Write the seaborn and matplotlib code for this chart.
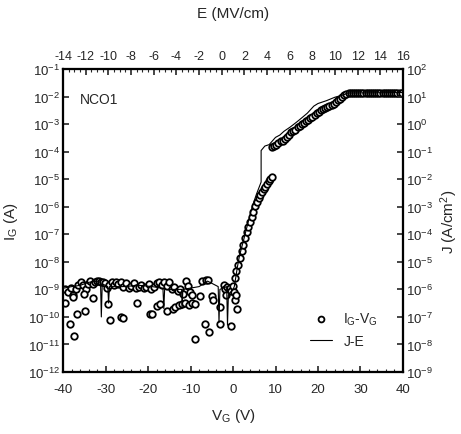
import matplotlib
matplotlib.use("Agg")
import matplotlib.pyplot as plt
import matplotlib.ticker as mticker
import seaborn as sns
import numpy as np
import pandas as pd

# ---------------- data ----------------
# I_G - V_G scatter: leakage/noise region
noise_v = [-39.5, -38.8, -38.2, -37.6, -37.0, -36.4, -35.8, -35.3, -34.7, -34.2, -33.6, -33.0,
           -32.5, -32.0, -31.6, -31.2, -30.7, -30.2, -29.7, -29.2, -28.6, -28.1, -27.5, -27.0,
           -26.4, -25.8, -25.2, -24.6, -24.0, -23.4, -22.8, -22.2, -21.6, -21.0, -20.4, -19.8,
           -19.2, -18.6, -18.0, -17.4, -16.8, -16.2, -15.6, -15.0, -14.4, -13.8, -13.0, -12.4,
           -11.8, -11.0, -10.6, -10.2, -9.6, -7.4, -6.4, -5.8, -2.2, -1.8, -1.4, -0.8, -0.4,
           0.0, 0.3,
           -39.6, -38.4, -37.4, -36.7, -34.8, -37.8, -35.2, -33.0, -29.4, -28.9, -26.3, -25.9,
           -22.6, -19.5, -19.0, -17.9, -17.2, -15.5, -14.2, -13.6, -12.8, -12.0, -11.2, -10.4,
           -9.7, -9.0, -7.8, -5.0, -4.8, -3.1, -8.9, -6.6, -5.6, -3.1, -0.5, 0.5, 0.9, 0.6, -1.6]
noise_i = [1.0e-9, 8e-10, 1.1e-9, 6.5e-10, 1.0e-9, 1.4e-9, 1.8e-9, 1.5e-9, 1.0e-9, 1.6e-9, 2.0e-9, 1.6e-9,
           1.9e-9, 2.1e-9, 2.0e-9, 1.8e-9, 1.9e-9, 1.7e-9, 1.1e-9, 1.4e-9, 1.8e-9, 1.5e-9, 1.9e-9, 1.6e-9,
           1.8e-9, 1.2e-9, 1.7e-9, 1.1e-9, 1.3e-9, 1.7e-9, 1.1e-9, 1.2e-9, 1.5e-9, 1.1e-9, 1.2e-9, 1.6e-9,
           1.0e-9, 1.2e-9, 1.7e-9, 1.8e-9, 1.4e-9, 1.9e-9, 1.3e-9, 1.8e-9, 1.0e-9, 1.2e-9, 9e-10, 1.0e-9,
           7e-10, 2.0e-9, 1.3e-9, 8e-10, 6e-10, 2.1e-9, 2.2e-9, 2.2e-9, 1.4e-9, 1.0e-9, 1.2e-9, 1.1e-9, 9e-10,
           1.3e-9, 8e-10,
           3.2e-10, 5.4e-11, 2.1e-11, 1.3e-10, 1.6e-10, 5.5e-10, 7e-10, 5e-10, 3.0e-10, 8e-11, 1.0e-10, 9e-11,
           3.2e-10, 1.3e-10, 1.3e-10, 2.5e-10, 3.0e-10, 1.6e-10, 2.0e-10, 2.2e-10, 2.6e-10, 3.0e-10, 3.2e-10, 2.8e-10,
           3.2e-10, 3.0e-10, 5.6e-10, 5.6e-10, 4e-10, 2.2e-10, 1.6e-11, 5.4e-11, 2.8e-11, 5.4e-11, 4.5e-11, 4e-10, 2.0e-10, 6e-10, 6e-10]

# I_G - V_G scatter: rising (Fowler-Nordheim) region
rise_v = [0.4, 0.8, 1.2, 1.6, 2.0, 2.4, 2.8, 3.2, 3.6, 4.0, 4.4, 4.8, 5.2, 5.6, 6.0, 6.4, 6.8,
          7.2, 7.6, 8.0, 8.4, 8.8, 9.2]
rise_i = [2.5e-9, 4.5e-9, 7.9e-9, 1.4e-8, 2.5e-8, 4.2e-8, 7.1e-8, 1.2e-7, 1.9e-7, 2.8e-7, 4.2e-7,
          6.6e-7, 1.05e-6, 1.5e-6, 2.0e-6, 2.7e-6, 3.4e-6, 4.3e-6, 5.4e-6, 6.8e-6, 8.3e-6, 1.0e-5, 1.2e-5]

# I_G - V_G scatter: post-breakdown region
high_v = [9.2, 9.7, 10.2, 10.7, 11.2, 11.7, 12.2, 12.7, 13.2, 13.7, 14.2, 14.7, 15.2, 15.7, 16.2,
          16.7, 17.2, 17.7, 18.2, 18.7, 19.2, 19.7, 20.2, 20.7, 21.2, 21.7, 22.2, 22.7, 23.2, 23.7,
          24.2, 24.7, 25.2, 25.7, 26.2, 26.7, 27.2, 27.7, 28.2, 28.7, 29.2, 29.7, 30.2, 30.7, 31.2,
          31.7, 32.2, 32.7, 33.2, 33.7, 34.2, 34.7, 35.2, 35.7, 36.2, 36.7, 37.2, 37.7, 38.2, 38.7,
          39.2, 39.7]
high_i = [1.45e-4, 1.6e-4, 1.8e-4, 2.1e-4, 2.4e-4, 2.5e-4, 3.0e-4, 3.4e-4, 4.0e-4, 5.0e-4, 5.6e-4,
          6.3e-4, 7.6e-4, 8.5e-4, 1.0e-3, 1.1e-3, 1.26e-3, 1.4e-3, 1.6e-3, 1.8e-3, 2.1e-3, 2.5e-3,
          2.8e-3, 3.2e-3, 3.5e-3, 3.8e-3, 4.2e-3, 4.7e-3, 5.1e-3, 5.6e-3, 6.3e-3, 7.4e-3, 8.1e-3,
          9.5e-3, 1.12e-2, 1.26e-2, 1.35e-2, 1.35e-2, 1.3e-2, 1.35e-2, 1.35e-2, 1.3e-2, 1.35e-2,
          1.35e-2, 1.3e-2, 1.35e-2, 1.35e-2, 1.3e-2, 1.35e-2, 1.35e-2, 1.3e-2, 1.35e-2, 1.35e-2,
          1.3e-2, 1.35e-2, 1.35e-2, 1.3e-2, 1.35e-2, 1.35e-2, 1.3e-2, 1.35e-2, 1.35e-2]

# J - E curve (top / right axes)
je_e = [-14.0, -13.25, -12.5, -11.75, -11.0, -10.7, -10.63, -10.55, -10.06, -9.99, -9.91, -8.75,
        -7.25, -6.13, -5.19, -5.11, -5.04, -4.25, -3.54, -3.5, -3.43, -2.0, -1.25, -0.31, -0.24,
        -0.16, 0.44, 0.51, 0.59, 1.0, 1.11, 1.19, 1.38, 1.56, 1.94, 2.31, 2.69, 3.06, 3.48, 3.48,
        3.81, 4.19, 4.75, 5.13, 5.5, 6.06, 6.63, 7.0, 7.56, 8.13, 8.5, 9.25, 10.0, 10.75, 11.13, 16.0]
je_j = [1.1e-6, 1.26e-6, 1.4e-6, 1.8e-6, 2.0e-6, 1.8e-6, 1.0e-7, 1.6e-6, 1.26e-6, 3.2e-7, 1.26e-6, 1.26e-6,
        1.4e-6, 1.26e-6, 1.1e-6, 2.0e-7, 1.0e-6, 1.0e-6, 1.0e-6, 2.0e-7, 1.0e-6, 1.26e-6, 2.0e-6, 1.26e-6, 6.3e-8,
        1.0e-6, 1.26e-6, 5.0e-8, 6.3e-7, 1.0e-6, 1.26e-6, 2.0e-6, 6.3e-6, 1.6e-5, 6.3e-5, 2.5e-4, 1.0e-3, 2.8e-3,
        7.9e-3, 0.11, 0.16, 0.18, 0.33, 0.4, 0.55, 0.79, 1.2, 1.6, 2.5, 4.5, 5.6, 7.1, 9.5, 11.5, 13.5, 14.0]

# ---------------- style ----------------
sns.set_style("ticks")
plt.rcParams["font.family"] = ["Liberation Sans", "DejaVu Sans"]
plt.rcParams["mathtext.fontset"] = "custom"
plt.rcParams["mathtext.rm"] = "Liberation Sans"
plt.rcParams["mathtext.it"] = "Liberation Sans"
plt.rcParams["mathtext.default"] = "rm"
plt.rcParams["axes.unicode_minus"] = False

fig = plt.figure(figsize=(4.61, 4.35), dpi=100)
ax = fig.add_axes([0.137, 0.1425, 0.737, 0.6965])

scatter_df = pd.DataFrame({"V": noise_v + rise_v + high_v, "I": noise_i + rise_i + high_i})
sns.scatterplot(data=scatter_df, x="V", y="I", ax=ax, marker="o", s=22, facecolor="white",
                edgecolor="black", linewidth=1.3, legend=False, zorder=3)
ax.set_yscale("log")
ax.set_xlim(-40, 40)
ax.set_ylim(1e-12, 1e-1)

ax2 = ax.twinx()
ax2.set_yscale("log")
ax2.set_ylim(1e-9, 1e2)
ax3 = ax2.twiny()
je_df = pd.DataFrame({"E": je_e, "J": je_j})
sns.lineplot(data=je_df, x="E", y="J", ax=ax3, sort=False, estimator=None, color="black",
             linewidth=0.8, legend=False)
ax3.set_xlim(-14, 16)
ax3.set_ylim(1e-9, 1e2)

def logfmt(v, pos):
    e = int(round(np.log10(v)))
    return "10$^{%d}$" % e

for a in (ax, ax2):
    a.yaxis.set_major_locator(mticker.LogLocator(base=10, numticks=20))
    a.yaxis.set_minor_locator(mticker.NullLocator())
    a.yaxis.set_major_formatter(mticker.FuncFormatter(logfmt))

ax.xaxis.set_major_locator(mticker.MultipleLocator(10))
ax.xaxis.set_minor_locator(mticker.MultipleLocator(2))
ax3.xaxis.set_major_locator(mticker.MultipleLocator(2))
ax3.xaxis.set_minor_locator(mticker.MultipleLocator(0.5))

for a in (ax, ax2, ax3):
    a.tick_params(which="major", direction="in", length=4, width=1.2, labelsize=9.5, pad=2)
    a.tick_params(which="minor", direction="in", length=2, width=0.8)
    for s in a.spines.values():
        s.set_linewidth(1.5)
        s.set_color("black")
ax.tick_params(axis="x", which="major", pad=8)
ax3.tick_params(axis="x", which="major", pad=5, labelsize=9)

ax.set_xlabel("V$_G$ (V)", fontsize=11, labelpad=8)
ax.set_ylabel("I$_G$ (A)", fontsize=11, labelpad=6)
ax2.set_ylabel("J (A/cm$^{2}$)", fontsize=11, labelpad=4)
ax3.set_xlabel("E (MV/cm)", fontsize=11, labelpad=24)

ax.text(0.05, 0.90, "NCO1", transform=ax.transAxes, fontsize=10, ha="left", va="center")

h1 = ax.collections[0]
h2 = ax3.lines[0]
ax3.legend([h1, h2], ["I$_G$-V$_G$", "J-E"], loc="upper left", bbox_to_anchor=(0.69, 0.245),
           frameon=False, fontsize=10, handlelength=1.6, handletextpad=0.8, labelspacing=0.5,
           markerscale=0.9)

fig.savefig("out.png", dpi=100)
